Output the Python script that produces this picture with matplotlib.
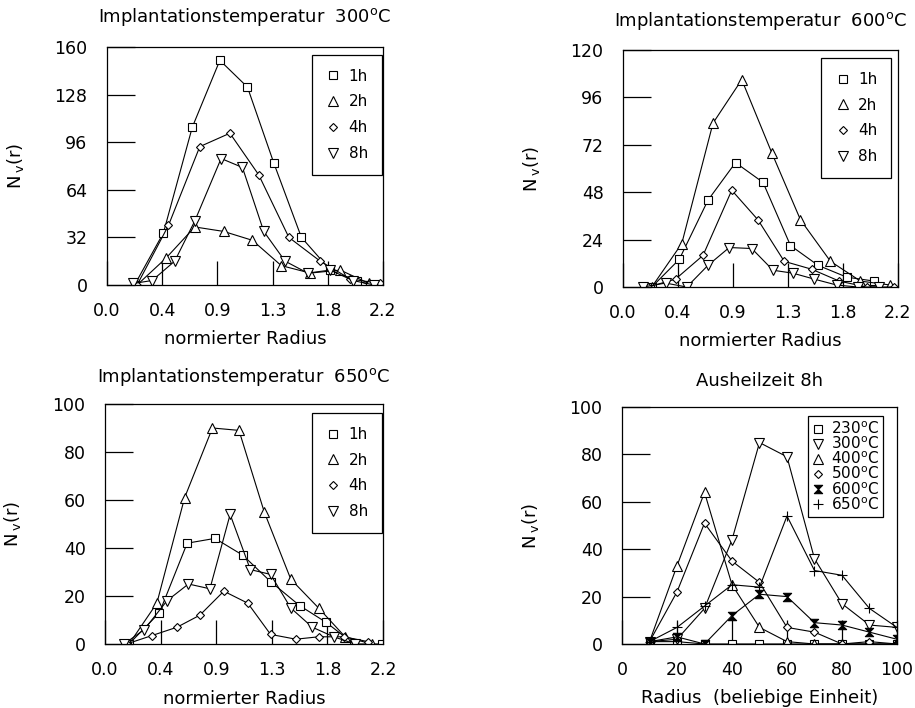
import numpy as np
import matplotlib
matplotlib.use('Agg')
import matplotlib.pyplot as plt
from matplotlib.lines import Line2D
from matplotlib.path import Path

# ---------------- data ----------------
# panel 1 : Implantationstemperatur 300C
p1_x_1h = [0.22, 0.45, 0.68, 0.90, 1.12, 1.33, 1.55, 1.78, 1.99, 2.10]
p1_y_1h = [0, 35, 106, 151, 133, 82, 32, 10, 3, 0]
p1_x_2h = [0.24, 0.47, 0.70, 0.93, 1.16, 1.39, 1.62, 1.86, 2.09]
p1_y_2h = [0, 18, 39, 36, 30, 13, 8, 10, 1]
p1_x_4h = [0.24, 0.49, 0.74, 0.98, 1.21, 1.45, 1.70, 1.94, 2.18]
p1_y_4h = [0, 40, 93, 102, 74, 32, 16, 4, 1]
p1_x_8h = [0.21, 0.36, 0.54, 0.70, 0.91, 1.08, 1.25, 1.42, 1.60, 1.78, 1.96, 2.13]
p1_y_8h = [1, 3, 16, 43, 85, 79, 36, 16, 8, 10, 3, 0]

# panel 2 : Implantationstemperatur 600C
p2_x_1h = [0.23, 0.45, 0.68, 0.90, 1.12, 1.34, 1.56, 1.79, 2.01]
p2_y_1h = [0, 14, 44, 63, 53, 21, 11, 5, 3]
p2_x_2h = [0.23, 0.47, 0.72, 0.95, 1.19, 1.42, 1.66, 1.90, 2.14]
p2_y_2h = [0, 22, 83, 105, 68, 34, 13, 3, 1]
p2_x_4h = [0.20, 0.42, 0.64, 0.87, 1.08, 1.29, 1.51, 1.73, 1.95, 2.17]
p2_y_4h = [0, 4, 16, 49, 34, 13, 9, 3, 0, 0]
p2_x_8h = [0.16, 0.34, 0.51, 0.68, 0.85, 1.03, 1.20, 1.36, 1.53, 1.71, 1.88, 2.05]
p2_y_8h = [0, 2, 0, 11, 20, 19.5, 8.5, 7, 4, 1, 0, 0]

# panel 3 : Implantationstemperatur 650C
p3_x_1h = [0.19, 0.43, 0.65, 0.87, 1.09, 1.31, 1.54, 1.75, 1.97, 2.19]
p3_y_1h = [0, 13, 42, 44, 37, 26, 16, 9, 0, 0]
p3_x_2h = [0.19, 0.41, 0.63, 0.85, 1.06, 1.26, 1.47, 1.69, 1.90, 2.11]
p3_y_2h = [0, 17, 61, 90, 89, 55, 27, 15, 3, 0]
p3_x_4h = [0.17, 0.37, 0.57, 0.75, 0.94, 1.13, 1.31, 1.51, 1.69, 1.89, 2.08]
p3_y_4h = [0, 3.5, 7, 12, 22, 17, 4, 2, 3, 3, 1]
p3_x_8h = [0.15, 0.31, 0.49, 0.66, 0.83, 0.99, 1.15, 1.31, 1.47, 1.64, 1.81, 1.98]
p3_y_8h = [0, 6, 18, 25, 23, 54, 31, 29, 15, 7, 3, 0]

# panel 4 : Ausheilzeit 8h
radius = [10, 20, 30, 40, 50, 60, 70, 80, 90, 100]
n_230 = [1, 1, 0, 0, 0, 0, 0, 0, 0, 0]
n_300 = [1, 2, 15, 44, 85, 79, 36, 17, 8, 7]
n_400 = [1, 33, 64, 25, 7, 1, 0, 0, 0, 0]
n_500 = [1, 22, 51, 35, 26, 7, 5, 0, 1, 0]
n_600 = [1, 3, 0, 12, 21, 20, 9, 8, 5, 2]
n_650 = [1, 7, 16, 25, 24, 54, 31, 29, 15, 7]

hours = ['1h', '2h', '4h', '8h']
temps = ['230', '300', '400', '500', '600', '650']
xtick_vals = [0, 0.44, 0.88, 1.32, 1.76, 2.2]
xtick_labels = ['0.0', '0.4', '0.9', '1.3', '1.8', '2.2']

# ---------------- style ----------------
plt.rcParams['font.family'] = ['DejaVu Sans']
plt.rcParams['mathtext.fontset'] = 'dejavusans'

hourglass = Path([(-1, 1), (1, 1), (-1, -1), (1, -1), (-1, 1)],
                 [Path.MOVETO, Path.LINETO, Path.LINETO, Path.LINETO, Path.CLOSEPOLY])

mk = {
    '1h': dict(marker='s', ms=5.5, mfc='white'),
    '2h': dict(marker='^', ms=7, mfc='white'),
    '4h': dict(marker='D', ms=3.8, mfc='white'),
    '8h': dict(marker='v', ms=7, mfc='white'),
}
mk4 = {
    '230': dict(marker='s', ms=5.5, mfc='white'),
    '300': dict(marker='v', ms=7, mfc='white'),
    '400': dict(marker='^', ms=7, mfc='white'),
    '500': dict(marker='D', ms=3.8, mfc='white'),
    '600': dict(marker=hourglass, ms=6, mfc='black'),
    '650': dict(marker='+', ms=7, mfc='black'),
}

deg = r'$^\mathregular{o}$C'
fig = plt.figure(figsize=(9.15, 7.08), dpi=100)

axes_pos = [
    [0.1169, 0.5975, 0.3016, 0.3362],
    [0.6809, 0.5946, 0.3005, 0.3347],
    [0.1148, 0.0904, 0.3038, 0.3390],
    [0.6798, 0.0904, 0.3005, 0.3347],
]


def style_axes(ax, xt, xl, yt, xlim, ylim, title, title_y, xlabel):
    ax.set_xlim(*xlim)
    ax.set_ylim(*ylim)
    ax.set_xticks(xt)
    ax.set_xticklabels(xl)
    ax.set_yticks(yt)
    ax.tick_params(axis='y', direction='in', length=20, width=0.9, pad=14, labelsize=12.5)
    ax.tick_params(axis='x', direction='in', length=17, width=0.9, pad=12, labelsize=12.5)
    for s in ax.spines.values():
        s.set_linewidth(0.9)
    ax.set_ylabel(r'N$\,_\mathregular{v}$(r)', fontsize=13)
    ax.yaxis.set_label_coords(-0.295, 0.5)
    ax.set_xlabel(xlabel, fontsize=13)
    ax.xaxis.set_label_coords(0.5, -0.19)
    ax.text(0.5, title_y, title, transform=ax.transAxes, ha='center', va='center', fontsize=13)


def hour_panel(ax, xs, ys, ymax, ystep, title, title_y, leg_anchor):
    for h, x, y in zip(hours, xs, ys):
        ax.plot(x, y, color='black', lw=0.8, mec='black', mew=0.8, **mk[h])
    style_axes(ax, xtick_vals, xtick_labels, np.arange(0, ymax + 1, ystep), (0, 2.2), (0, ymax),
               title, title_y, 'normierter Radius')
    handles = [Line2D([], [], ls='none', color='black', mec='black', mew=0.8, **mk[h]) for h in hours]
    leg = ax.legend(handles, hours, loc='upper right', bbox_to_anchor=leg_anchor, fontsize=11,
                    frameon=True, fancybox=False, edgecolor='black', framealpha=1,
                    handlelength=1.0, handletextpad=0.5, labelspacing=0.7,
                    borderpad=0.9, borderaxespad=0)
    leg.get_frame().set_linewidth(0.9)


ax1 = fig.add_axes(axes_pos[0])
hour_panel(ax1, [p1_x_1h, p1_x_2h, p1_x_4h, p1_x_8h], [p1_y_1h, p1_y_2h, p1_y_4h, p1_y_8h],
           160, 32, 'Implantationstemperatur  300' + deg, 1.126, (0.995, 0.966))

ax2 = fig.add_axes(axes_pos[1])
hour_panel(ax2, [p2_x_1h, p2_x_2h, p2_x_4h, p2_x_8h], [p2_y_1h, p2_y_2h, p2_y_4h, p2_y_8h],
           120, 24, 'Implantationstemperatur  600' + deg, 1.122, (0.975, 0.966))

ax3 = fig.add_axes(axes_pos[2])
hour_panel(ax3, [p3_x_1h, p3_x_2h, p3_x_4h, p3_x_8h], [p3_y_1h, p3_y_2h, p3_y_4h, p3_y_8h],
           100, 20, 'Implantationstemperatur  650' + deg, 1.112, (0.995, 0.962))

ax4 = fig.add_axes(axes_pos[3])
for t, y in zip(temps, [n_230, n_300, n_400, n_500, n_600, n_650]):
    ax4.plot(radius, y, color='black', lw=0.8, mec='black', mew=0.8, **mk4[t])
style_axes(ax4, [0, 20, 40, 60, 80, 100], ['0', '20', '40', '60', '80', '100'],
           [0, 20, 40, 60, 80, 100], (0, 100), (0, 100),
           'Ausheilzeit 8h', 1.11, 'Radius  (beliebige Einheit)')
handles4 = [Line2D([], [], ls='none', color='black', mec='black', mew=0.8, **mk4[t]) for t in temps]
leg4 = ax4.legend(handles4, [t + deg for t in temps], loc='upper right', bbox_to_anchor=(0.95, 0.962),
                  fontsize=11, frameon=True, fancybox=False, edgecolor='black', framealpha=1,
                  handlelength=0.8, handletextpad=0.4, labelspacing=-0.1,
                  borderpad=0.3, borderaxespad=0)
leg4.get_frame().set_linewidth(0.9)

fig.savefig('out.png', dpi=100)
